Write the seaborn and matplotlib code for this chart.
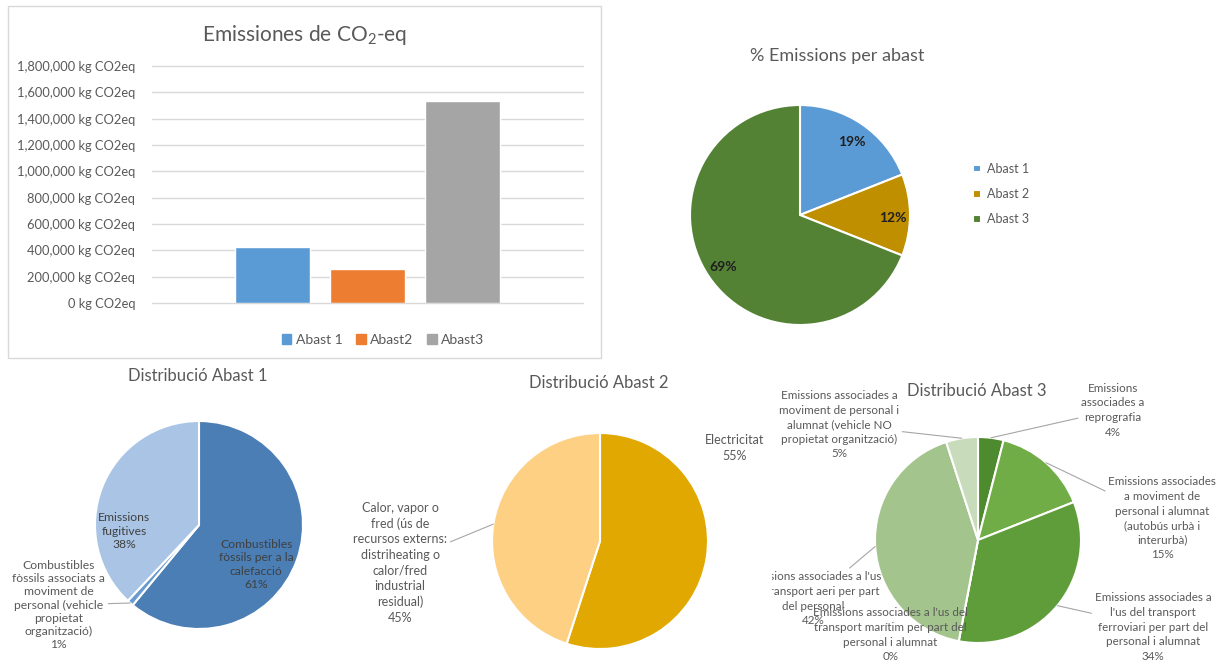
import matplotlib
matplotlib.use("Agg")
import matplotlib.pyplot as plt
import seaborn as sns
import numpy as np
import pandas as pd
from matplotlib.patches import Rectangle, Patch
from matplotlib.transforms import Bbox, TransformedBbox
from matplotlib.ticker import FuncFormatter, FixedLocator

# ---------------- data ----------------
bar_names = ["Abast 1", "Abast2", "Abast3"]
bar_values = [425000, 258000, 1534000]
bar_colors = ["#5B9BD5", "#ED7D31", "#A5A5A5"]
y_tick_values = [0, 200000, 400000, 600000, 800000, 1000000,
                 1200000, 1400000, 1600000, 1800000]

share_names = ["Abast 1", "Abast 2", "Abast 3"]
share_values = [19, 12, 69]
share_colors = ["#5B9BD5", "#BF8F00", "#548235"]

a1_names = ["Combustibles\nfòssils per a la\ncalefacció",
            "Combustibles\nfòssils associats a\nmoviment de\npersonal (vehicle\npropietat\norganització)",
            "Emissions\nfugitives"]
a1_values = [61, 1, 38]
a1_colors = ["#4A7EB5", "#6A9BD0", "#A9C4E4"]

a2_names = ["Electricitat",
            "Calor, vapor o\nfred (ús de\nrecursos externs:\ndistriheating o\ncalor/fred\nindustrial\nresidual)"]
a2_values = [55, 45]
a2_colors = ["#E0A800", "#FDD083"]

a3_names = ["Emissions\nassociades a\nreprografia",
            "Emissions associades\na moviment de\npersonal i alumnat\n(autobús urbà i\ninterurbà)",
            "Emissions associades a\nl'us del transport\nferroviari per part del\npersonal i alumnat",
            "Emissions associades a l'us del\ntransport marítim per part del\npersonal i alumnat",
            "Emissions associades a l'us\ndel transport aeri per part\ndel personal",
            "Emissions associades a\nmoviment de personal i\nalumnat (vehicle NO\npropietat organització)"]
a3_values = [4, 15, 34, 0, 42, 5]
a3_colors = ["#4E8A2E", "#70AD47", "#5F9D3B", "#8FBC6F", "#A3C48C", "#C8DBBA"]

# ---------------- style ----------------
sns.set_theme(style="white")
plt.rcParams["font.family"] = ["Lato", "DejaVu Sans"]
plt.rcParams["mathtext.fontset"] = "custom"
plt.rcParams["mathtext.rm"] = "Lato"
GREY = "#595959"

W, H = 1229, 666
fig = plt.figure(figsize=(W / 100, H / 100), dpi=100)
fig.patch.set_facecolor("white")


def fx(x):
    return x / W


def fy(y):
    return 1 - y / H


def px_rect(x0, y0, x1, y1):
    return [x0 / W, 1 - y1 / H, (x1 - x0) / W, (y1 - y0) / H]


# ---------------- bar chart ----------------
fig.patches.append(Rectangle((fx(8), fy(358)), (601 - 8) / W, (358 - 6) / H,
                             transform=fig.transFigure, fill=False,
                             ec="#D9D9D9", lw=1))
ax = fig.add_axes(px_rect(152, 66, 583, 303))
sns.barplot(x=bar_names, y=bar_values, hue=bar_names, order=bar_names,
            hue_order=bar_names, palette=bar_colors, saturation=1,
            width=0.79, legend=False, ax=ax)
ax.set_xlim(-1.263, 3.27)
ax.set_ylim(0, 1800000)
ax.yaxis.set_major_locator(FixedLocator(y_tick_values))
ax.yaxis.set_major_formatter(FuncFormatter(lambda v, p: f"{int(v):,} kg CO2eq"))
ax.grid(axis="y", color="#D9D9D9", lw=1)
ax.set_axisbelow(True)
for s in ax.spines.values():
    s.set_visible(False)
ax.set_xticks([])
ax.set_xlabel("")
ax.set_ylabel("")
ax.tick_params(axis="y", length=0, pad=12, labelsize=9.3, labelcolor=GREY)
for t in ax.get_ygridlines():
    t.set_clip_on(False)
ax.legend(handles=[Patch(color=c, label=n) for n, c in zip(bar_names, bar_colors)],
          ncol=3, loc="center", bbox_to_anchor=(fx(383), fy(340)),
          bbox_transform=fig.transFigure, frameon=False, fontsize=10,
          handlelength=0.7, handleheight=0.7, handletextpad=0.3,
          columnspacing=1.0, labelcolor=GREY)
fig.text(fx(305), fy(35), r"Emissiones de CO$_\mathregular{2}$-eq",
         ha="center", va="center", fontsize=15, color=GREY)

# ---------------- share pie ----------------
cx, cy, r = 800, 215, 110
axp = fig.add_axes(px_rect(cx - r, cy - r, cx + r, cy + r))
wedges, _, autotexts = axp.pie(share_values, colors=share_colors, startangle=90,
                               counterclock=False,
                               wedgeprops=dict(edgecolor="white", linewidth=1.5),
                               autopct="%1.0f%%", pctdistance=0.8,
                               textprops=dict(fontsize=10, fontweight="bold",
                                              color="#1F1F1F"))
axp.set_xlim(-1, 1)
axp.set_ylim(-1, 1)
for w in wedges:
    w.set_clip_on(False)
autotexts[0].set_position((0.47, 0.66))
autotexts[1].set_position((0.84, -0.03))
autotexts[2].set_position((-0.70, -0.47))
axp.legend(wedges, share_names, loc="center left",
           bbox_to_anchor=(fx(962), fy(194)), bbox_transform=fig.transFigure,
           frameon=False, fontsize=9, handlelength=0.6, handleheight=0.6,
           handletextpad=0.5, labelspacing=1.05, labelcolor=GREY)
fig.text(fx(837), fy(56), "% Emissions per abast", ha="center", va="center",
         fontsize=13, color=GREY)


# ---------------- detail pies ----------------
def detail_pie(cx, cy, r, values, colors, names, positions, leaders, tcolors,
               fontsize, linespacing, clip_bbox=None):
    a = fig.add_axes(px_rect(cx - r, cy - r, cx + r, cy + r))
    ws, _ = a.pie(values, colors=colors, startangle=90, counterclock=False,
                  wedgeprops=dict(edgecolor="white", linewidth=1.5))
    a.set_xlim(-1, 1)
    a.set_ylim(-1, 1)
    for w, name, v, pos, lead, tc in zip(ws, names, values, positions, leaders, tcolors):
        w.set_clip_on(False)
        mid = np.deg2rad((w.theta1 + w.theta2) / 2)
        edge = (np.cos(mid), np.sin(mid))
        txt = f"{name}\n{v}%"
        if lead:
            t = a.annotate(txt, xy=edge, xytext=pos, ha="center", va="center",
                           multialignment="center",
                           fontsize=fontsize, color=tc, linespacing=linespacing,
                           arrowprops=dict(arrowstyle="-", color="#A6A6A6", lw=0.8,
                                           shrinkA=0, shrinkB=0),
                           annotation_clip=False, clip_on=True)
        else:
            t = a.text(pos[0], pos[1], txt, ha="center", va="center",
                       multialignment="center",
                       fontsize=fontsize, color=tc, linespacing=linespacing,
                       clip_on=True)
        t.set_clip_path(None)
        if clip_bbox is not None:
            t.set_clip_box(clip_bbox)
            t.set_clip_on(True)
        else:
            t.set_clip_on(False)
    return a


detail_pie(199, 525, 104, a1_values, a1_colors, a1_names,
           [(0.55, -0.38), (-1.35, -0.77), (-0.72, -0.06)],
           [False, True, False], ["#404040", GREY, "#404040"], 8.7, 1.25)
fig.text(fx(198), fy(376), "Distribució Abast 1", ha="center", va="center",
         fontsize=12, color=GREY)

detail_pie(600, 541, 108, a2_values, a2_colors, a2_names,
           [(1.25, 0.86), (-1.85, -0.20)],
           [False, True], [GREY, GREY], 9.0, 1.35)
fig.text(fx(599), fy(383), "Distribució Abast 2", ha="center", va="center",
         fontsize=12, color=GREY)

clip3 = TransformedBbox(Bbox.from_extents(fx(772), 0, 1, fy(366)), fig.transFigure)
detail_pie(978, 540, 103, a3_values, a3_colors, a3_names,
           [(1.31, 1.26), (1.79, 0.21), (1.70, -0.845), (-0.85, -0.92),
            (-1.60, -0.57), (-1.35, 1.12)],
           [True, True, True, False, True, True], [GREY] * 6, 8.4, 1.4,
           clip_bbox=clip3)
fig.text(fx(977), fy(391), "Distribució Abast 3", ha="center", va="center",
         fontsize=12, color=GREY)

fig.savefig("out.png", dpi=100, facecolor="white")
